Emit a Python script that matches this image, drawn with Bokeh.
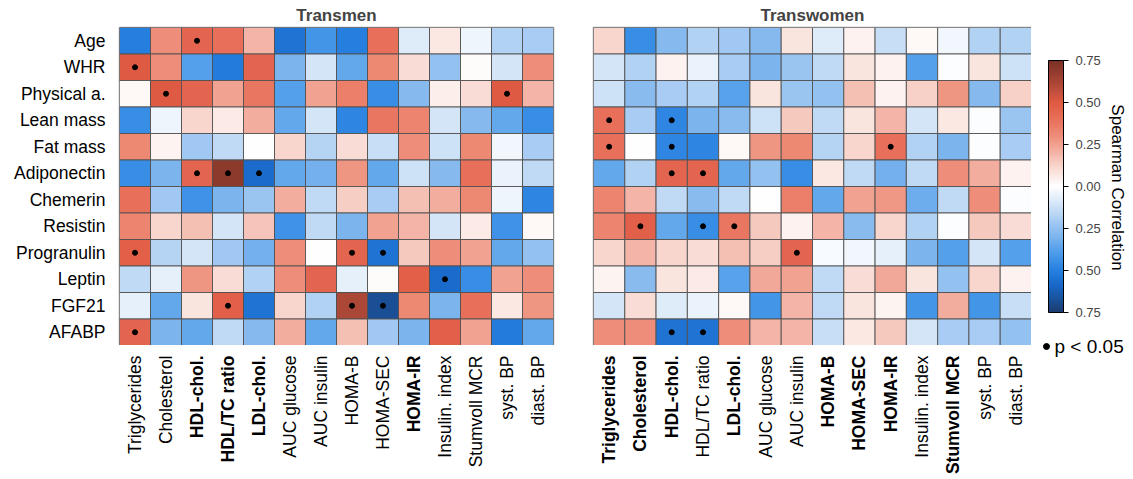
import numpy as np
from math import pi
from bokeh.plotting import figure
from bokeh.models import (ColumnDataSource, LinearColorMapper, ColorBar, FixedTicker, Range1d)
from bokeh.layouts import row, column
from bokeh.embed import file_html
from bokeh.resources import INLINE

# ---------------- data ----------------
rows = ["Age", "WHR", "Physical a.", "Lean mass", "Fat mass", "Adiponectin", "Chemerin",
        "Resistin", "Progranulin", "Leptin", "FGF21", "AFABP"]
cols = ["Triglycerides", "Cholesterol", "HDL-chol.", "HDL/TC ratio", "LDL-chol.", "AUC glucose",
        "AUC insulin", "HOMA-B", "HOMA-SEC", "HOMA-IR", "Insulin. index", "Stumvoll MCR",
        "syst. BP", "diast. BP"]
bold_transmen = ["HDL-chol.", "HDL/TC ratio", "LDL-chol.", "HOMA-IR"]
bold_transwomen = ["Triglycerides", "Cholesterol", "HDL-chol.", "LDL-chol.", "HOMA-B",
                   "HOMA-SEC", "HOMA-IR", "Stumvoll MCR"]

transmen = [
    [-0.50, 0.30, 0.45, 0.40, 0.20, -0.55, -0.42, -0.50, 0.40, -0.08, 0.07, -0.04, -0.18, -0.20],
    [0.50, 0.30, -0.38, -0.52, 0.45, -0.30, -0.10, -0.35, 0.32, 0.10, -0.25, 0.01, -0.10, 0.30],
    [0.02, 0.50, 0.45, 0.25, 0.38, -0.38, 0.25, 0.35, -0.45, -0.28, 0.05, 0.10, 0.50, 0.20],
    [-0.45, -0.04, 0.12, 0.06, 0.22, -0.35, -0.10, -0.48, 0.38, 0.33, -0.10, -0.28, -0.35, -0.45],
    [0.32, 0.03, -0.22, -0.15, 0.00, 0.12, -0.17, 0.10, -0.13, 0.30, -0.12, 0.32, -0.03, -0.20],
    [-0.45, -0.30, 0.45, 0.70, -0.58, -0.35, -0.32, 0.28, -0.35, -0.12, -0.28, 0.40, -0.05, -0.15],
    [0.40, -0.22, -0.43, -0.30, -0.23, 0.22, -0.15, 0.14, -0.20, 0.17, 0.22, 0.32, -0.04, -0.48],
    [0.33, 0.12, 0.17, -0.10, 0.16, -0.43, -0.15, -0.30, 0.25, 0.20, -0.10, 0.06, -0.43, 0.02],
    [0.48, -0.17, -0.10, -0.22, -0.32, 0.30, 0.00, 0.45, -0.55, 0.15, 0.30, 0.25, -0.35, -0.25],
    [-0.15, -0.06, 0.28, 0.10, -0.18, 0.30, 0.45, -0.06, 0.01, 0.48, -0.58, -0.45, 0.25, 0.30],
    [-0.06, -0.35, 0.08, 0.47, -0.55, 0.12, -0.18, 0.62, -0.68, 0.32, -0.30, 0.40, 0.07, 0.28],
    [0.45, -0.30, -0.35, -0.15, -0.28, 0.22, -0.35, 0.17, -0.22, -0.30, 0.47, 0.25, -0.52, -0.35],
]
transwomen = [
    [0.12, -0.45, -0.28, -0.18, -0.22, -0.28, 0.08, -0.08, 0.04, -0.13, 0.02, -0.03, -0.18, -0.18],
    [-0.10, -0.18, 0.04, -0.05, -0.20, -0.30, -0.23, -0.15, 0.08, 0.04, -0.38, -0.01, 0.08, -0.12],
    [-0.12, -0.27, -0.20, -0.18, -0.37, 0.08, -0.23, -0.25, 0.17, 0.04, 0.13, 0.28, -0.28, 0.13],
    [0.40, -0.20, -0.48, -0.30, -0.27, -0.12, 0.15, -0.15, 0.08, 0.20, -0.10, 0.07, -0.01, -0.23],
    [0.40, 0.00, -0.48, -0.48, 0.02, 0.28, 0.32, -0.17, 0.12, 0.40, -0.18, -0.30, -0.01, -0.20],
    [-0.35, -0.18, 0.45, 0.45, -0.35, -0.25, -0.45, 0.07, -0.15, -0.32, -0.15, 0.30, 0.22, 0.04],
    [0.33, 0.20, -0.15, -0.27, -0.15, 0.00, 0.35, -0.35, 0.25, 0.27, -0.33, -0.15, 0.30, -0.01],
    [0.33, 0.47, -0.35, -0.45, 0.38, 0.15, 0.04, 0.20, -0.27, 0.12, -0.18, -0.01, 0.15, 0.10],
    [0.12, 0.20, 0.12, 0.10, 0.17, 0.14, 0.45, -0.02, -0.03, -0.06, -0.30, -0.38, -0.10, -0.38],
    [0.03, -0.27, 0.08, 0.06, -0.37, 0.23, 0.25, -0.15, 0.10, 0.23, 0.08, -0.25, 0.12, 0.04],
    [-0.10, 0.10, -0.08, -0.05, 0.02, -0.42, 0.20, -0.15, 0.08, 0.03, -0.42, 0.22, -0.42, -0.13],
    [0.30, 0.30, -0.55, -0.55, 0.30, 0.20, 0.20, -0.13, 0.07, 0.15, -0.10, -0.20, -0.20, -0.25],
]
sig_transmen = [
    ("Age", "HDL-chol."), ("WHR", "Triglycerides"), ("Physical a.", "Cholesterol"),
    ("Physical a.", "syst. BP"), ("Adiponectin", "HDL-chol."), ("Adiponectin", "HDL/TC ratio"),
    ("Adiponectin", "LDL-chol."), ("Progranulin", "Triglycerides"), ("Progranulin", "HOMA-B"),
    ("Progranulin", "HOMA-SEC"), ("Leptin", "Insulin. index"), ("FGF21", "HDL/TC ratio"),
    ("FGF21", "HOMA-B"), ("FGF21", "HOMA-SEC"), ("AFABP", "Triglycerides"),
]
sig_transwomen = [
    ("Lean mass", "Triglycerides"), ("Lean mass", "HDL-chol."), ("Fat mass", "Triglycerides"),
    ("Fat mass", "HDL-chol."), ("Fat mass", "HOMA-IR"), ("Adiponectin", "HDL-chol."),
    ("Adiponectin", "HDL/TC ratio"), ("Resistin", "Cholesterol"), ("Resistin", "HDL/TC ratio"),
    ("Resistin", "LDL-chol."), ("Progranulin", "AUC insulin"), ("AFABP", "HDL-chol."),
    ("AFABP", "HDL/TC ratio"),
]
cbar_ticks = [-0.75, -0.5, -0.25, 0.0, 0.25, 0.5, 0.75]
cbar_labels = ["0.75", "0.50", "0.25", "0.00", "0.25", "0.50", "0.75"]

# ---------------- style ----------------
FONT = "Liberation Sans"
anchor_v = [-0.75, -0.6, -0.5, -0.4, -0.3, -0.2, -0.1, 0.0, 0.1, 0.2, 0.3, 0.4, 0.5, 0.6, 0.75]
anchor_c = ["#1c3d70", "#1766c6", "#2680e0", "#4b9bea", "#7db5ee", "#a9cdf3", "#d6e6f8", "#ffffff",
            "#f9ddd6", "#f4b5a8", "#ee8e7a", "#e8705a", "#e05a43", "#b34a3a", "#7a3226"]


def hex2rgb(h):
    return [int(h[i:i + 2], 16) for i in (1, 3, 5)]


rgb = np.array([hex2rgb(c) for c in anchor_c], dtype=float)
palette = []
for g in np.linspace(-0.75, 0.75, 256):
    r, gg, b = (np.interp(g, anchor_v, rgb[:, k]) for k in range(3))
    palette.append("#%02x%02x%02x" % (int(round(r)), int(round(gg)), int(round(b))))
mapper = LinearColorMapper(palette=palette, low=-0.75, high=0.75)

TOP = 26
FRAME_H = 319
LAB_H = 130


def bare(p):
    p.xaxis.visible = False
    p.yaxis.visible = False
    p.grid.grid_line_color = None
    p.outline_line_color = None


def heat(values, sig, title, frame_w, left, right, show_y):
    p = figure(x_range=cols, y_range=list(reversed(rows)),
               width=left + frame_w + right, height=TOP + FRAME_H,
               min_border_left=left, min_border_right=right,
               min_border_top=TOP, min_border_bottom=0, output_backend="svg",
               toolbar_location=None, title=title)
    xs, ys, vs = [], [], []
    for i, r in enumerate(rows):
        for j, c in enumerate(cols):
            xs.append(c)
            ys.append(r)
            vs.append(values[i][j])
    src = ColumnDataSource(dict(x=xs, y=ys, v=vs))
    p.rect("x", "y", width=1, height=1, source=src,
           fill_color={"field": "v", "transform": mapper},
           line_color="#505050", line_width=0.9)
    p.scatter([c for r, c in sig], [r for r, c in sig], size=5, color="black")

    p.title.align = "center"
    p.title.text_font = FONT
    p.title.text_font_size = "17px"
    p.title.text_font_style = "bold"
    p.title.standoff = 6
    p.outline_line_color = "#a0a0a0"
    p.outline_line_width = 1.5
    p.grid.grid_line_color = None
    p.xaxis.visible = False
    ax = p.yaxis
    ax.visible = show_y
    ax.axis_line_color = None
    ax.major_tick_line_color = None
    ax.minor_tick_line_color = None
    ax.major_tick_out = 0
    ax.major_tick_in = 0
    ax.major_label_text_font = FONT
    ax.major_label_text_font_size = "17.5px"
    ax.major_label_text_color = "black"
    ax.major_label_standoff = 14
    return p


def xlabels(p_heat, bold, frame_w, left, right):
    q = figure(x_range=p_heat.x_range, y_range=Range1d(0, LAB_H),
               width=left + frame_w + right, height=LAB_H,
               min_border_left=left, min_border_right=right,
               min_border_top=0, min_border_bottom=0, output_backend="svg",
               toolbar_location=None)
    bare(q)
    styles = ["bold" if c in bold else "normal" for c in cols]
    src = ColumnDataSource(dict(x=cols, y=[LAB_H - 10] * len(cols), t=cols, s=styles))
    q.text("x", "y", text="t", source=src, angle=pi / 2, text_align="right",
           text_baseline="middle", text_font_style="s",
           text_font_size="17.5px", text_color="black",
           text_font={"value": FONT})
    return q


p1 = heat(transmen, sig_transmen, "Transmen", 434, 119, 20, True)
l1 = xlabels(p1, bold_transmen, 434, 119, 20)
p2 = heat(transwomen, sig_transwomen, "Transwomen", 438, 20, 0, False)
l2 = xlabels(p2, bold_transwomen, 438, 20, 0)

# colour bar panel: data units equal pixels
W3, H3 = 95, TOP + FRAME_H + LAB_H
p3 = figure(width=W3, height=H3, x_range=Range1d(0, W3), y_range=Range1d(0, H3),
            min_border=0, output_backend="svg", toolbar_location=None)
bare(p3)
cb = ColorBar(color_mapper=mapper, ticker=FixedTicker(ticks=cbar_ticks),
              major_label_overrides=dict(zip(cbar_ticks, cbar_labels)),
              width=15, height=252, location=(17, H3 - 60 - 252), margin=0, padding=0,
              bar_line_color="black", bar_line_width=1,
              major_tick_line_color="black", major_tick_in=0, major_tick_out=5,
              minor_tick_line_color=None, label_standoff=7,
              major_label_text_font=FONT, major_label_text_font_size="13px",
              background_fill_color=None, border_line_color=None)
p3.add_layout(cb, "center")
p3.text([86], [H3 - 187], text=["Spearman Correlation"], angle=-pi / 2,
        text_align="center", text_baseline="middle", text_font_size="17px",
        text_color="black", text_font={"value": FONT})
p3.scatter([15], [H3 - 346], size=6, color="black")
p3.text([23], [H3 - 346], text=["p < 0.05"], text_align="left", text_baseline="middle",
        text_font_size="19px", text_color="black", text_font={"value": FONT})

layout = row(column(p1, l1), column(p2, l2), p3)
open("out.html", "w").write(file_html(layout, INLINE))
